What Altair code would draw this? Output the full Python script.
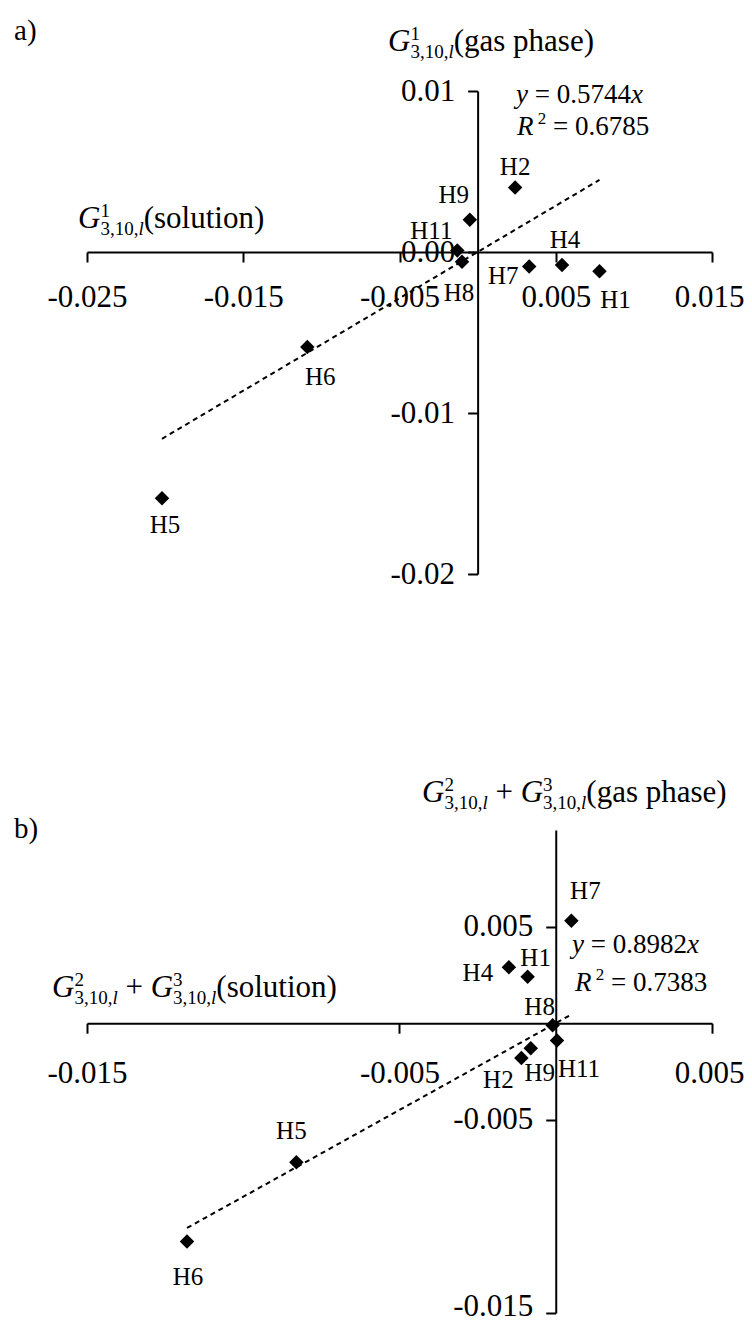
import altair as alt
import pandas as pd

FONT = "Liberation Serif"

# ---------------- data ----------------
labels_a = ["H1", "H2", "H4", "H5", "H6", "H7", "H8", "H9", "H11"]
x_a = [0.0078, 0.0024, 0.0054, -0.0202, -0.0109, 0.0033, -0.0010, -0.0005, -0.0013]
y_a = [-0.0012, 0.0040, -0.0008, -0.0153, -0.0059, -0.0009, -0.0006, 0.0020, 0.0001]
slope_a = 0.5744
r2_a = 0.6785

labels_b = ["H1", "H2", "H4", "H5", "H6", "H7", "H8", "H9", "H11"]
x_b = [-0.0009, -0.0011, -0.0015, -0.0083, -0.0118, 0.0005, -0.0001, -0.0008, 0.00004]
y_b = [0.0024, -0.0018, 0.0029, -0.0072, -0.0113, 0.0053, -0.0001, -0.0013, -0.0009]
slope_b = 0.8982
r2_b = 0.7383

xdom_a = [-0.025, 0.015]
ydom_a = [-0.02, 0.01]
xticks_a = [-0.025, -0.015, -0.005, 0.005, 0.015]
yticks_a = [0.01, 0.0, -0.01, -0.02]

xdom_b = [-0.015, 0.005]
ydom_b = [-0.015, 0.01]
xticks_b = [-0.015, -0.005, 0.005]
yticks_b = [0.005, -0.005, -0.015]

# ---------------- layout / style ----------------
W = 625
H_TOTAL = 1222
yrange_a = [483, 0]
yrange_b = [1222, 739]

# label offsets (px) relative to each marker
lab_off_a = {"H1": (16, 29), "H2": (0, -21), "H4": (3, -25), "H5": (3, 27),
             "H6": (13, 30), "H7": (-26, 10), "H8": (-3, 31), "H9": (-16, -25),
             "H11": (-26, -19)}
lab_off_b = {"H1": (8, -19), "H2": (-23, 22), "H4": (-31, 6), "H5": (-5, -31),
             "H6": (1, 35), "H7": (14, -30), "H8": (-13, -18), "H9": (9, 25),
             "H11": (22, 28)}

REG = {' ': 0.25, '(': 0.333, ')': 0.333, ',': 0.25, '.': 0.25, '=': 0.564,
       '+': 0.564, '-': 0.333, 'a': 0.444, 'b': 0.5, 'e': 0.444, 'g': 0.5,
       'h': 0.5, 'i': 0.278, 'l': 0.278, 'n': 0.5, 'o': 0.5, 'p': 0.5,
       's': 0.389, 't': 0.278, 'u': 0.5, 'H': 0.722}
ITA = {'G': 0.722, 'l': 0.278, 'y': 0.444, 'x': 0.444, 'R': 0.611}


def tw(t, size, italic):
    tab = ITA if italic else REG
    return sum(tab.get(c, REG.get(c, 0.5)) for c in t) * size


def rich(parts, left, base):
    """parts: (text, size, italic, rise, advance)"""
    out = []
    cur = left
    for t, size, ital, rise, adv in parts:
        lead = len(t) - len(t.lstrip(' '))
        s = t.strip(' ')
        out.append((s, size, ital, cur + lead * 0.25 * size, base - rise))
        if adv:
            cur += tw(t, size, ital)
    return out


def gsym(sup, size=31, small=19):
    return [("G", size, True, 0, True), (sup, small, False, 11, False),
            ("3,10,", small, False, -7, True), ("l", small, True, -7, True)]


def panel(labels, xs, ys, slope, r2, xdom, ydom, yrange, xticks, yticks,
          xfmt, yfmt, xlabpad, offs, texts, x_last_shift, y_last_shift):
    df = pd.DataFrame({"x": xs, "y": ys, "label": labels})
    xmin, xmax = min(xs), max(xs)
    df_t = pd.DataFrame({"x": [xmin, xmax], "y": [slope * xmin, slope * xmax]})
    zero_x = (0 - xdom[0]) / (xdom[1] - xdom[0]) * W
    zero_y = yrange[0] + (0 - ydom[0]) / (ydom[1] - ydom[0]) * (yrange[1] - yrange[0])
    common = dict(title=None, grid=False, domainColor="black", domainWidth=2,
                  tickColor="black", tickWidth=2, tickSize=10, labelFont=FONT,
                  labelFontSize=31, labelColor="black", labelOverlap=False,
                  labelFlush=False)
    xa = alt.Axis(orient="bottom", offset=zero_y - H_TOTAL, values=xticks,
                  labelPadding=xlabpad,
                  labelOffset={"condition": {"test": "datum.value > %r" % (xticks[-1] - 1e-6),
                                             "value": x_last_shift}, "value": 0},
                  labelExpr="replace(format(datum.value, '%s'), '\u2212', '-')" % xfmt,
                  **common)
    ya = alt.Axis(orient="left", offset=-zero_x, values=yticks, labelPadding=13,
                  labelOffset={"condition": {"test": "datum.value < %r" % (yticks[-1] + 1e-6),
                                             "value": y_last_shift}, "value": 0},
                  labelExpr="replace(format(datum.value, '%s'), '\u2212', '-')" % yfmt,
                  **common)
    X = alt.X("x:Q", scale=alt.Scale(domain=xdom, nice=False, zero=False), axis=xa)
    Y = alt.Y("y:Q", scale=alt.Scale(domain=ydom, range=yrange, nice=False, zero=False), axis=ya)

    layers = [
        alt.Chart(df_t).mark_line(color="black", strokeDash=[5, 4], strokeWidth=2).encode(x=X, y=Y),
        alt.Chart(df).mark_point(shape="diamond", filled=True, color="black",
                                 size=210, opacity=1).encode(x=X, y=Y),
    ]
    for name, (dx, dy) in offs.items():
        layers.append(
            alt.Chart(df).transform_filter(alt.datum.label == name)
            .mark_text(font=FONT, fontSize=25, color="black", align="center",
                       baseline="middle", dx=dx, dy=dy)
            .encode(x=X, y=Y, text="label:N"))
    anchor = pd.DataFrame({"x": [0.0], "y": [0.0]})
    for s, size, ital, dx, dy in texts:
        layers.append(
            alt.Chart(anchor).mark_text(text=s, font=FONT, fontSize=size,
                                        fontStyle="italic" if ital else "normal",
                                        color="black", align="left",
                                        baseline="alphabetic", dx=dx, dy=dy)
            .encode(x=X, y=Y))
    return alt.layer(*layers)


# ---------------- annotation texts (offsets from each panel's origin) ----------------
texts_a = []
texts_a += rich([("a)", 29, False, 0, True)], -463.6, -212)
texts_a += rich(gsym("1") + [("(gas phase)", 31, False, 0, True)], -89.6, -201)
texts_a += rich(gsym("1") + [("(solution)", 31, False, 0, True)], -399.6, -24)
texts_a += rich([("y", 27, True, 0, True), (" = %.4f" % slope_a, 27, False, 0, True),
                 ("x", 27, True, 0, True)], 38.4, -149)
texts_a += rich([("R", 27, True, 0, True), (" 2", 17, False, 11, True),
                 (" = %.4f" % r2_a, 27, False, 0, True)], 39.4, -117)

texts_b = []
texts_b += rich([("b)", 29, False, 0, True)], -541.75, -185)
texts_b += rich(gsym("2") + [(" + ", 31, False, 0, True)] + gsym("3")
                + [("(gas phase)", 31, False, 0, True)], -133.75, -221)
texts_b += rich(gsym("2") + [(" + ", 31, False, 0, True)] + gsym("3")
                + [("(solution)", 31, False, 0, True)], -503.75, -26)
texts_b += rich([("y", 27, True, 0, True), (" = %.4f" % slope_b, 27, False, 0, True),
                 ("x", 27, True, 0, True)], 16.25, -70)
texts_b += rich([("R", 27, True, 0, True), (" 2", 17, False, 11, True),
                 (" = %.4f" % r2_b, 27, False, 0, True)], 19.25, -32)

pa = panel(labels_a, x_a, y_a, slope_a, r2_a, xdom_a, ydom_a, yrange_a,
           xticks_a, yticks_a, ".3f", ".2f", 20, lab_off_a, texts_a, -3, 0)
pb = panel(labels_b, x_b, y_b, slope_b, r2_b, xdom_b, ydom_b, yrange_b,
           xticks_b, yticks_b, ".3f", ".3f", 25, lab_off_b, texts_b, -3, -7)

chart = (
    alt.layer(pa, pb)
    .resolve_scale(x="independent", y="independent")
    .resolve_axis(x="independent", y="independent")
    .properties(width=W, height=H_TOTAL, background="white",
                padding={"left": 79, "top": 83, "right": 32, "bottom": 8},
                autosize=alt.AutoSizeParams(type="none"))
    .configure_view(strokeWidth=0, stroke="transparent")
)

chart.save("out.html", embed_options={"renderer": "svg", "actions": False})
